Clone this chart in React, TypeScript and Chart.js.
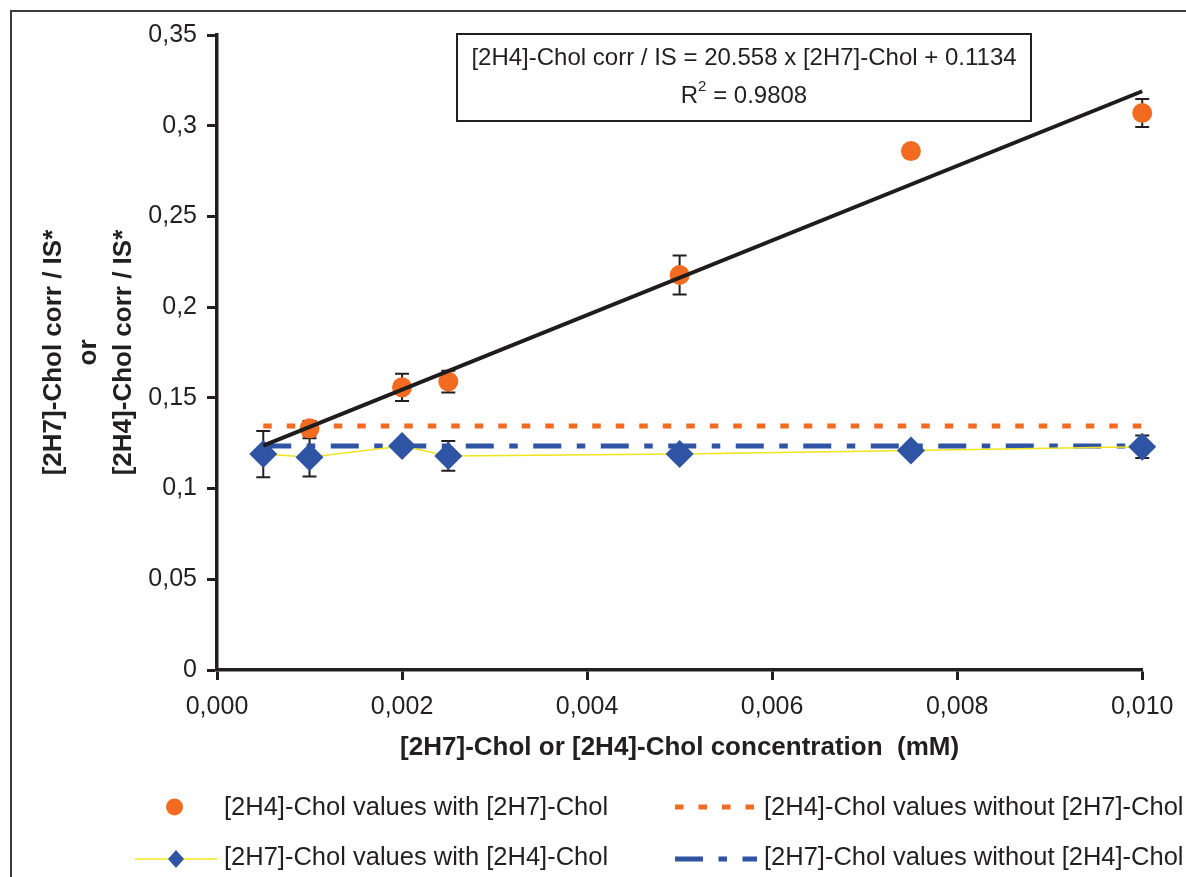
import React, { useEffect, useRef } from 'react';
import { Chart, registerables } from 'chart.js';

Chart.register(...registerables);

// ---------- data ----------
const xTickLabels = ['0,000', '0,002', '0,004', '0,006', '0,008', '0,010'];
const yTickLabels = ['0', '0,05', '0,1', '0,15', '0,2', '0,25', '0,3', '0,35'];

// [2H4]-Chol values with [2H7]-Chol (orange circles)
const orangeX = [0.001, 0.002, 0.0025, 0.005, 0.0075, 0.01];
const orangeY = [0.1332, 0.1558, 0.159, 0.2177, 0.286, 0.307];
const orangeErr = [0.004, 0.0075, 0.006, 0.0107, 0.003, 0.0077];

// [2H7]-Chol values with [2H4]-Chol (blue diamonds, yellow line)
const blueX = [0.0005, 0.001, 0.002, 0.0025, 0.005, 0.0075, 0.01];
const blueY = [0.119, 0.1172, 0.1235, 0.118, 0.119, 0.121, 0.123];
const blueErr = [0.0128, 0.0105, 0.002, 0.0082, 0.003, 0.002, 0.0062];

// linear trend line of the orange series (end points)
const trendX = [0.0005, 0.01];
const trendY = [0.1237, 0.319];

// reference levels without the other compound
const refX = [0.0005, 0.01];
const orangeRefY = [0.1345, 0.1345];
const blueRefY = [0.1235, 0.1235];

const legendLabels = [
  '[2H4]-Chol values with [2H7]-Chol',
  '[2H4]-Chol values without [2H7]-Chol',
  '[2H7]-Chol values with [2H4]-Chol',
  '[2H7]-Chol values without [2H4]-Chol',
];
const equationText = '[2H4]-Chol corr / IS = 20.558 x [2H7]-Chol + 0.1134';
const r2Parts = ['R', '2', ' = 0.9808'];
const yTitleLines = ['[2H7]-Chol corr / IS*', 'or', '[2H4]-Chol corr / IS*'];
const xTitle = '[2H7]-Chol or [2H4]-Chol concentration  (mM)';

// ---------- styles ----------
const FONT = '"Liberation Sans", Arial, Helvetica, sans-serif';
const INK = '#231F20';
const ORANGE = '#F36B21';
const BLUE = '#2F54A4';
const YELLOW = '#EFE41E';
const ORANGE_DASH = [8.5, 15];
const BLUE_DASH = [28, 15.5, 8.5, 15.5];

const pts = (xs: number[], ys: number[]) => xs.map((x, i) => ({ x, y: ys[i] }));

const errorMap: Record<number, number[]> = {};

const decorPlugin = {
  id: 'decor',
  // error bars are drawn just before their markers so the markers cover them
  beforeDatasetDraw(chart: any, args: any) {
    const errs = errorMap[args.index];
    if (!errs) return;
    const ds = chart.data.datasets[args.index];
    const ctx = chart.ctx;
    const xs = chart.scales.x;
    const ys = chart.scales.y;
    ctx.save();
    ctx.strokeStyle = INK;
    ctx.lineWidth = 2;
    ds.data.forEach((p: any, i: number) => {
      const px = xs.getPixelForValue(p.x);
      const top = ys.getPixelForValue(p.y + errs[i]);
      const bot = ys.getPixelForValue(p.y - errs[i]);
      ctx.beginPath();
      ctx.moveTo(px, top);
      ctx.lineTo(px, bot);
      ctx.moveTo(px - 7, top);
      ctx.lineTo(px + 7, top);
      ctx.moveTo(px - 7, bot);
      ctx.lineTo(px + 7, bot);
      ctx.stroke();
    });
    ctx.restore();
  },
  afterDraw(chart: any) {
    const ctx = chart.ctx;
    const W = chart.width;
    const H = chart.height;
    ctx.save();

    // outer frame
    ctx.strokeStyle = '#3c3c3c';
    ctx.lineWidth = 2;
    ctx.beginPath();
    ctx.moveTo(11, H);
    ctx.lineTo(11, 11);
    ctx.lineTo(W, 11);
    ctx.stroke();

    // equation box
    const ca = chart.chartArea;
    const bx = ca.left + 240;
    const by = ca.top - 1;
    const bw = 574;
    const bh = 87;
    ctx.strokeStyle = INK;
    ctx.lineWidth = 2;
    ctx.strokeRect(bx, by, bw, bh);
    ctx.fillStyle = INK;
    ctx.textBaseline = 'middle';
    ctx.textAlign = 'center';
    ctx.font = `24px ${FONT}`;
    const cx = bx + bw / 2;
    ctx.fillText(equationText, cx, by + 24);
    // R² line
    const big = `24px ${FONT}`;
    const small = `15px ${FONT}`;
    ctx.font = big;
    const wR = ctx.measureText(r2Parts[0]).width;
    const wRest = ctx.measureText(r2Parts[2]).width;
    ctx.font = small;
    const w2 = ctx.measureText(r2Parts[1]).width;
    let tx = cx - (wR + w2 + wRest) / 2;
    const ty = by + 62;
    ctx.textAlign = 'left';
    ctx.font = big;
    ctx.fillText(r2Parts[0], tx, ty);
    tx += wR;
    ctx.font = small;
    ctx.fillText(r2Parts[1], tx, ty - 9);
    tx += w2;
    ctx.font = big;
    ctx.fillText(r2Parts[2], tx, ty);

    // legend
    const row1 = 807;
    const row2 = 859;
    ctx.font = `25.5px ${FONT}`;
    ctx.fillStyle = INK;
    ctx.textAlign = 'left';
    ctx.fillText(legendLabels[0], 224, row1 + 1);
    ctx.fillText(legendLabels[1], 764, row1 + 1);
    ctx.fillText(legendLabels[2], 224, row2 - 1);
    ctx.fillText(legendLabels[3], 764, row2 - 1);

    // orange circle marker
    ctx.fillStyle = ORANGE;
    ctx.beginPath();
    ctx.arc(174.5, row1, 8.5, 0, Math.PI * 2);
    ctx.fill();

    // orange dashed
    ctx.strokeStyle = ORANGE;
    ctx.lineWidth = 5;
    ctx.setLineDash(ORANGE_DASH);
    ctx.beginPath();
    ctx.moveTo(675, row1);
    ctx.lineTo(757, row1);
    ctx.stroke();

    // blue dash-dot
    ctx.strokeStyle = BLUE;
    ctx.setLineDash(BLUE_DASH);
    ctx.beginPath();
    ctx.moveTo(675, row2);
    ctx.lineTo(757, row2);
    ctx.stroke();
    ctx.setLineDash([]);

    // yellow line + diamond
    ctx.strokeStyle = YELLOW;
    ctx.lineWidth = 1.5;
    ctx.beginPath();
    ctx.moveTo(135, row2);
    ctx.lineTo(217, row2);
    ctx.stroke();
    ctx.fillStyle = BLUE;
    ctx.beginPath();
    ctx.moveTo(176, row2 - 9);
    ctx.lineTo(184, row2);
    ctx.lineTo(176, row2 + 9);
    ctx.lineTo(168, row2);
    ctx.closePath();
    ctx.fill();

    ctx.restore();
  },
};

export default function App() {
  const ref = useRef<HTMLCanvasElement | null>(null);

  useEffect(() => {
    if (!ref.current) return;
    Chart.defaults.font.family = FONT;
    Chart.defaults.color = INK;

    const datasets: any[] = [
      {
        label: 'trend',
        data: pts(trendX, trendY),
        showLine: true,
        borderColor: '#1E1C1D',
        borderWidth: 4,
        pointRadius: 0,
        order: 0,
        clip: false,
      },
      {
        label: legendLabels[0],
        data: pts(orangeX, orangeY),
        showLine: false,
        pointStyle: 'circle',
        pointRadius: 10,
        pointBackgroundColor: ORANGE,
        pointBorderWidth: 0,
        pointBorderColor: ORANGE,
        order: 1,
        clip: false,
      },
      {
        label: legendLabels[1],
        data: pts(refX, orangeRefY),
        showLine: true,
        borderColor: ORANGE,
        borderWidth: 5,
        borderDash: ORANGE_DASH,
        borderCapStyle: 'butt',
        pointRadius: 0,
        order: 2,
        clip: false,
      },
      {
        label: legendLabels[2],
        data: pts(blueX, blueY),
        showLine: true,
        borderColor: YELLOW,
        borderWidth: 1.5,
        pointStyle: 'rectRot',
        pointRadius: 14,
        pointBackgroundColor: BLUE,
        pointBorderColor: BLUE,
        pointBorderWidth: 0,
        order: 3,
        clip: false,
      },
      {
        label: legendLabels[3],
        data: pts(refX, blueRefY),
        showLine: true,
        borderColor: BLUE,
        borderWidth: 5,
        borderDash: BLUE_DASH,
        borderCapStyle: 'butt',
        pointRadius: 0,
        order: 4,
        clip: false,
      },
    ];
    errorMap[1] = orangeErr;
    errorMap[3] = blueErr;

    const axisCommon = {
      grid: {
        display: true,
        drawOnChartArea: false,
        drawTicks: true,
        tickLength: 10,
        tickWidth: 3,
        tickColor: INK,
      },
      border: { display: true, color: INK, width: 3.5 },
    };

    const chart = new Chart(ref.current, {
      type: 'scatter',
      data: { datasets },
      plugins: [decorPlugin],
      options: {
        animation: false,
        responsive: false,
        maintainAspectRatio: false,
        events: [],
        layout: { padding: { left: 15, top: 35, right: 42, bottom: 0 } },
        plugins: {
          legend: { display: false },
          tooltip: { enabled: false },
          title: { display: false },
        },
        scales: {
          x: {
            type: 'linear',
            min: 0,
            max: 0.01,
            ...axisCommon,
            ticks: {
              stepSize: 0.002,
              autoSkip: false,
              maxRotation: 0,
              padding: 12.5,
              color: INK,
              font: { size: 25 },
              callback: (_v: any, i: number) => xTickLabels[i] ?? '',
            },
            title: {
              display: true,
              text: xTitle,
              color: INK,
              font: { size: 26, weight: 'bold', lineHeight: 1.2 },
              padding: { top: 0, bottom: 113.4 },
            },
            afterFit: (scale: any) => {
              scale.height = 207;
            },
          },
          y: {
            type: 'linear',
            min: 0,
            max: 0.35,
            ...axisCommon,
            ticks: {
              stepSize: 0.05,
              autoSkip: false,
              padding: 10,
              color: INK,
              font: { size: 25 },
              callback: (_v: any, i: number) => yTickLabels[i] ?? '',
            },
            title: {
              display: true,
              text: yTitleLines,
              color: INK,
              font: { size: 26, weight: 'bold', lineHeight: 1.35 },
              padding: { top: 21, bottom: 0 },
            },
            afterFit: (scale: any) => {
              scale.width = 202;
            },
          },
        },
      } as any,
    });

    return () => {
      chart.destroy();
    };
  }, []);

  return (
    <div style={{ position: 'absolute', left: 0, top: 0, width: 1186, height: 877, background: '#fff' }}>
      <canvas ref={ref} width={1186} height={877} style={{ display: 'block', width: 1186, height: 877 }} />
    </div>
  );
}
